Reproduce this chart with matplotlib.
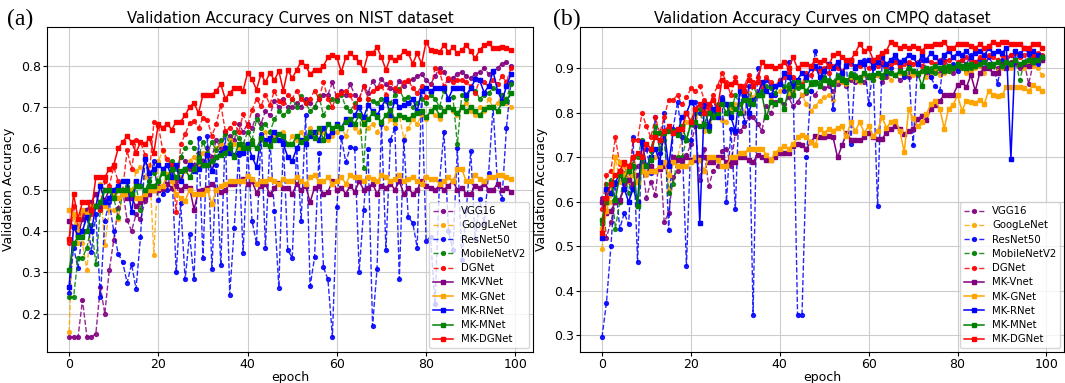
import matplotlib
matplotlib.use("Agg")
import matplotlib.pyplot as plt

# epochs 0..99
epochs = list(range(100))

names_a = ['VGG16', 'GoogLeNet', 'ResNet50', 'MobileNetV2', 'DGNet',
           'MK-VNet', 'MK-GNet', 'MK-RNet', 'MK-MNet', 'MK-DGNet']
names_b = ['VGG16', 'GoogLeNet', 'ResNet50', 'MobileNetV2', 'DGNet',
           'MK-Vnet', 'MK-GNet', 'MK-RNet', 'MK-MNet', 'MK-DGNet']
colors = ['purple', 'orange', 'blue', 'green', 'red',
          'purple', 'orange', 'blue', 'green', 'red']

# ---- panel (a): NIST ----
a_vgg = [.143, .143, .143, .233, .143, .143, .152, .265, .20, .305,
         .378, .456, .50, .426, .40, .44, .428, .472, .49, .50,
         .51, .50, .53, .55, .52, .58, .57, .55, .56, .59,
         .57, .60, .58, .62, .60, .64, .63, .62, .66, .64,
         .66, .65, .68, .66, .69, .68, .715, .70, .72, .70,
         .70, .71, .70, .72, .71, .70, .72, .73, .73, .76,
         .72, .74, .73, .755, .73, .72, .75, .735, .763, .745,
         .767, .755, .745, .74, .763, .75, .763, .767, .775, .78,
         .765, .755, .775, .795, .785, .765, .77, .78, .785, .775,
         .77, .78, .785, .795, .78, .785, .795, .805, .808, .80]
a_goog = [.155, .44, .37, .37, .305, .45, .46, .515, .365, .45,
          .45, .43, .49, .48, .49, .545, .554, .53, .56, .343,
          .57, .594, .56, .55, .555, .53, .545, .57, .58, .56,
          .59, .58, .56, .60, .61, .60, .62, .61, .60, .59,
          .61, .62, .60, .62, .64, .61, .63, .62, .64, .61,
          .63, .62, .64, .62, .65, .63, .64, .64, .62, .63,
          .64, .65, .63, .66, .65, .64, .67, .65, .66, .64,
          .66, .65, .67, .66, .68, .623, .65, .67, .66, .68,
          .67, .69, .68, .67, .69, .70, .69, .68, .70, .71,
          .69, .68, .70, .69, .72, .70, .71, .73, .71, .70]
a_res = [.25, .36, .31, .40, .44, .35, .44, .24, .425, .47,
         .40, .345, .325, .275, .32, .26, .385, .575, .52, .57,
         .475, .49, .50, .555, .30, .468, .283, .392, .283, .626,
         .335, .63, .307, .56, .317, .64, .246, .408, .585, .348,
         .60, .424, .37, .634, .36, .62, .449, .263, .62, .354,
         .335, .60, .425, .68, .266, .336, .589, .312, .283, .144,
         .457, .627, .566, .603, .60, .302, .45, .598, .17, .308,
         .66, .355, .62, .65, .284, .62, .433, .42, .36, .74,
         .377, .385, .223, .52, .64, .40, .354, .60, .33, .45,
         .593, .38, .477, .42, .54, .70, .513, .477, .65, .76]
a_mob = [.24, .24, .335, .335, .36, .415, .32, .45, .50, .50,
         .48, .435, .49, .51, .50, .51, .45, .50, .52, .54,
         .52, .55, .56, .57, .55, .58, .60, .615, .60, .58,
         .615, .59, .615, .595, .62, .635, .61, .64, .625, .61,
         .64, .62, .67, .65, .66, .64, .67, .69, .68, .69,
         .72, .70, .726, .71, .69, .70, .726, .68, .70, .72,
         .715, .73, .70, .69, .71, .70, .553, .72, .715, .71,
         .72, .715, .71, .73, .743, .72, .725, .70, .71, .72,
         .71, .73, .72, .70, .74, .72, .725, .61, .73, .72,
         .745, .74, .72, .73, .735, .745, .74, .73, .72, .755]
a_dg = [.37, .46, .41, .44, .45, .44, .46, .45, .52, .51,
        .555, .52, .50, .595, .55, .62, .615, .585, .54, .663,
        .655, .595, .574, .56, .446, .61, .634, .662, .666, .65,
        .674, .668, .63, .66, .706, .642, .65, .662, .64, .682,
        .654, .694, .719, .702, .73, .706, .739, .715, .71, .73,
        .72, .74, .72, .71, .72, .74, .72, .76, .72, .70,
        .73, .735, .74, .73, .70, .72, .75, .72, .74, .745,
        .75, .73, .76, .745, .74, .76, .765, .745, .735, .75,
        .725, .74, .795, .785, .75, .77, .76, .765, .765, .76,
        .75, .735, .765, .76, .75, .765, .757, .775, .76, .795]
a_mkv = [.425, .41, .39, .43, .45, .47, .49, .46, .475, .50,
         .49, .50, .49, .48, .48, .46, .47, .48, .49, .50,
         .50, .505, .513, .505, .51, .50, .51, .505, .452, .497,
         .50, .505, .513, .50, .495, .50, .513, .515, .52, .525,
         .513, .52, .493, .51, .513, .489, .505, .517, .505, .505,
         .49, .513, .50, .51, .47, .505, .51, .49, .495, .52,
         .50, .505, .49, .51, .495, .52, .50, .505, .515, .49,
         .51, .505, .515, .50, .52, .49, .505, .49, .50, .52,
         .51, .505, .50, .51, .50, .51, .52, .50, .505, .49,
         .49, .51, .505, .515, .50, .50, .515, .50, .505, .495]
a_mkg = [.45, .44, .40, .45, .44, .46, .46, .47, .46, .48,
         .49, .48, .49, .49, .50, .48, .48, .49, .50, .50,
         .505, .51, .537, .52, .49, .48, .473, .50, .49, .49,
         .49, .50, .465, .50, .51, .515, .52, .52, .52, .52,
         .533, .525, .515, .52, .52, .525, .52, .515, .525, .52,
         .52, .53, .52, .515, .53, .535, .52, .52, .53, .515,
         .52, .53, .515, .535, .53, .53, .52, .53, .525, .52,
         .535, .53, .52, .525, .535, .52, .525, .53, .52, .515,
         .53, .525, .525, .515, .52, .53, .52, .55, .55, .52,
         .52, .535, .525, .52, .53, .53, .535, .535, .53, .525]
a_mkr = [.265, .41, .39, .40, .435, .40, .46, .51, .47, .48,
         .50, .51, .52, .52, .445, .52, .51, .575, .54, .55,
         .56, .55, .56, .53, .56, .52, .55, .56, .545, .55,
         .56, .585, .545, .58, .59, .60, .59, .585, .59, .59,
         .61, .58, .555, .625, .62, .625, .64, .62, .61, .58,
         .57, .60, .62, .61, .63, .64, .62, .65, .63, .64,
         .66, .65, .67, .66, .68, .70, .675, .705, .69, .68,
         .70, .72, .68, .715, .70, .705, .71, .72, .69, .74,
         .745, .74, .745, .745, .745, .72, .745, .745, .745, .73,
         .745, .767, .765, .735, .75, .787, .74, .715, .75, .78]
a_mkm = [.305, .37, .385, .385, .40, .45, .46, .47, .50, .50,
         .48, .50, .50, .50, .49, .51, .51, .50, .51, .51,
         .52, .54, .53, .55, .53, .545, .55, .53, .55, .57,
         .56, .56, .57, .58, .585, .59, .60, .58, .61, .60,
         .60, .61, .60, .625, .61, .605, .62, .635, .63, .61,
         .61, .63, .615, .625, .64, .625, .65, .62, .66, .65,
         .655, .65, .665, .67, .66, .68, .66, .67, .686, .675,
         .665, .68, .694, .67, .68, .675, .67, .68, .685, .69,
         .675, .69, .70, .68, .69, .70, .695, .685, .70, .69,
         .70, .69, .68, .695, .70, .70, .69, .71, .715, .735]
a_mkdg = [.38, .49, .43, .47, .47, .45, .53, .53, .53, .55,
          .56, .60, .615, .63, .615, .59, .615, .61, .625, .59,
          .66, .65, .66, .645, .665, .665, .68, .70, .71, .685,
          .73, .73, .73, .74, .755, .72, .735, .745, .745, .74,
          .783, .767, .742, .78, .76, .783, .765, .787, .74, .79,
          .77, .79, .81, .80, .78, .79, .79, .80, .82, .825,
          .82, .785, .82, .83, .82, .81, .79, .83, .83, .845,
          .82, .79, .82, .815, .82, .835, .83, .805, .83, .805,
          .858, .837, .835, .833, .85, .833, .845, .83, .838, .85,
          .835, .818, .838, .85, .855, .842, .842, .845, .842, .838]

# ---- panel (b): CMPQ ----
b_vgg = [.61, .52, .555, .60, .60, .64, .65, .66, .68, .69,
         .61, .645, .615, .71, .555, .575, .655, .67, .69, .705,
         .73, .77, .65, .72, .635, .67, .68, .715, .72, .68,
         .755, .76, .77, .79, .79, .775, .76, .815, .80, .825,
         .83, .82, .835, .815, .825, .84, .845, .85, .84, .86,
         .855, .86, .85, .865, .87, .86, .875, .87, .88, .87,
         .88, .875, .885, .87, .88, .89, .885, .875, .89, .88,
         .89, .885, .895, .89, .88, .895, .89, .90, .895, .89,
         .90, .905, .895, .90, .91, .905, .90, .91, .905, .90,
         .91, .905, .915, .91, .90, .915, .865, .91, .915, .92]
b_goog = [.495, .58, .60, .70, .645, .68, .645, .69, .645, .68,
          .66, .70, .70, .735, .745, .625, .69, .70, .745, .78,
          .785, .79, .80, .76, .78, .80, .79, .785, .78, .81,
          .82, .82, .80, .845, .835, .85, .84, .855, .83, .84,
          .85, .855, .845, .85, .86, .84, .82, .805, .815, .828,
          .835, .84, .83, .875, .87, .865, .88, .875, .87, .885,
          .88, .875, .885, .88, .89, .875, .885, .89, .88, .89,
          .885, .89, .895, .88, .89, .895, .885, .89, .895, .90,
          .895, .90, .89, .895, .90, .905, .89, .90, .905, .895,
          .90, .905, .90, .91, .905, .90, .91, .905, .90, .885]
b_res = [.296, .373, .50, .645, .54, .575, .55, .745, .465, .73,
         .72, .665, .79, .71, .80, .536, .765, .825, .745, .456,
         .74, .825, .80, .825, .765, .83, .80, .835, .60, .765,
         .585, .86, .78, .86, .347, .90, .845, .875, .86, .84,
         .875, .85, .915, .87, .347, .347, .70, .85, .94, .90,
         .88, .91, .81, .905, .89, .91, .73, .905, .91, .92,
         .82, .90, .59, .91, .89, .90, .92, .90, .88, .91,
         .727, .91, .92, .90, .88, .86, .85, .92, .905, .91,
         .895, .92, .91, .93, .915, .92, .90, .925, .91, .865,
         .92, .915, .93, .92, .935, .915, .93, .925, .91, .92]
b_mob = [.55, .64, .65, .54, .60, .665, .62, .70, .70, .74,
         .73, .715, .77, .72, .74, .62, .64, .70, .70, .74,
         .78, .80, .81, .77, .76, .80, .82, .83, .82, .80,
         .84, .82, .84, .82, .86, .84, .85, .86, .855, .845,
         .87, .86, .865, .87, .855, .86, .875, .87, .865, .87,
         .88, .875, .87, .885, .88, .875, .89, .885, .88, .89,
         .885, .875, .89, .885, .895, .89, .885, .895, .89, .90,
         .895, .89, .895, .895, .90, .89, .90, .905, .895, .90,
         .905, .90, .91, .90, .905, .91, .90, .91, .905, .915,
         .91, .915, .91, .92, .873, .915, .92, .925, .92, .925]
b_dg = [.585, .66, .67, .745, .685, .685, .65, .74, .74, .80,
        .77, .745, .79, .755, .79, .83, .83, .84, .82, .835,
        .855, .85, .86, .83, .81, .84, .86, .89, .87, .84,
        .88, .855, .86, .885, .87, .88, .86, .88, .87, .86,
        .875, .88, .89, .88, .87, .865, .89, .885, .90, .895,
        .90, .89, .905, .90, .895, .905, .91, .90, .905, .91,
        .90, .91, .905, .915, .90, .91, .915, .905, .91, .915,
        .91, .915, .905, .92, .915, .91, .92, .915, .92, .925,
        .915, .92, .925, .92, .915, .925, .92, .93, .925, .92,
        .93, .925, .93, .935, .925, .93, .935, .93, .935, .93]
b_mkv = [.60, .575, .58, .60, .605, .63, .65, .64, .66, .67,
         .665, .68, .67, .675, .68, .685, .70, .695, .695, .70,
         .695, .695, .70, .70, .69, .69, .70, .70, .69, .69,
         .69, .70, .70, .695, .69, .705, .70, .695, .695, .70,
         .71, .71, .71, .725, .73, .727, .72, .735, .748, .745,
         .745, .748, .745, .70, .727, .755, .74, .74, .74, .745,
         .756, .745, .742, .742, .755, .763, .77, .765, .752, .76,
         .764, .786, .794, .785, .81, .817, .828, .84, .84, .84,
         .862, .87, .858, .885, .85, .89, .90, .90, .89, .89,
         .907, .90, .91, .915, .905, .91, .905, .915, .92, .92]
b_mkg = [.54, .58, .62, .70, .69, .66, .68, .66, .645, .67,
         .665, .67, .67, .68, .69, .66, .69, .68, .68, .68,
         .69, .70, .695, .67, .70, .70, .695, .68, .68, .70,
         .70, .71, .71, .72, .72, .72, .72, .705, .695, .71,
         .72, .725, .72, .73, .745, .75, .745, .735, .727, .764,
         .755, .764, .76, .767, .77, .748, .78, .76, .779, .756,
         .77, .748, .76, .79, .767, .779, .783, .76, .712, .808,
         .788, .77, .78, .798, .82, .826, .81, .765, .81, .818,
         .84, .805, .828, .824, .823, .83, .82, .85, .84, .838,
         .84, .858, .858, .858, .858, .855, .85, .862, .855, .85]
b_mkr = [.52, .63, .62, .64, .67, .63, .60, .63, .60, .735,
         .68, .70, .72, .69, .76, .68, .76, .755, .79, .80,
         .825, .81, .553, .815, .77, .81, .79, .83, .82, .79,
         .76, .85, .84, .80, .83, .84, .87, .85, .84, .86,
         .865, .89, .88, .86, .875, .89, .88, .90, .905, .88,
         .895, .91, .90, .915, .89, .905, .92, .90, .915, .91,
         .92, .905, .915, .925, .91, .92, .93, .915, .92, .93,
         .925, .91, .93, .92, .935, .925, .915, .93, .94, .925,
         .935, .93, .94, .925, .935, .94, .93, .945, .935, .94,
         .935, .945, .697, .94, .93, .945, .935, .94, .93, .925]
b_mkm = [.56, .60, .645, .605, .66, .65, .67, .68, .59, .70,
         .68, .695, .755, .755, .755, .76, .76, .75, .77, .74,
         .775, .78, .77, .775, .80, .79, .80, .82, .80, .82,
         .81, .80, .83, .83, .82, .84, .84, .79, .825, .82,
         .83, .81, .855, .84, .87, .86, .85, .865, .87, .86,
         .875, .87, .865, .88, .875, .87, .885, .88, .875, .89,
         .88, .885, .89, .88, .895, .89, .885, .895, .89, .90,
         .895, .89, .86, .90, .895, .905, .90, .895, .905, .90,
         .91, .905, .90, .91, .905, .91, .915, .905, .91, .915,
         .905, .915, .91, .92, .91, .915, .92, .915, .92, .925]
b_mkdg = [.53, .61, .64, .66, .67, .69, .68, .70, .71, .70,
          .73, .72, .745, .74, .76, .77, .755, .765, .765, .80,
          .78, .81, .82, .80, .82, .83, .81, .875, .86, .865,
          .87, .86, .85, .875, .86, .87, .915, .905, .905, .90,
          .905, .915, .90, .925, .90, .91, .91, .905, .92, .915,
          .92, .905, .93, .935, .925, .92, .92, .935, .955, .94,
          .945, .92, .925, .935, .94, .96, .955, .945, .95, .945,
          .95, .945, .94, .95, .95, .955, .955, .96, .945, .945,
          .955, .955, .955, .95, .945, .955, .945, .95, .96, .955,
          .96, .96, .955, .955, .955, .945, .945, .955, .955, .945]

series_a = [a_vgg, a_goog, a_res, a_mob, a_dg, a_mkv, a_mkg, a_mkr, a_mkm, a_mkdg]
series_b = [b_vgg, b_goog, b_res, b_mob, b_dg, b_mkv, b_mkg, b_mkr, b_mkm, b_mkdg]

fig = plt.figure(figsize=(10.65, 3.83), dpi=100)
ax_a = fig.add_axes([47 / 1065, 31 / 383, 486 / 1065, 325 / 383])
ax_b = fig.add_axes([580 / 1065, 31 / 383, 484 / 1065, 325 / 383])


def draw_panel(ax, series, names, title):
    for i, (vals, name, c) in enumerate(zip(series, names, colors)):
        if i < 5:
            ax.plot(epochs, vals, linestyle='--', marker='o', markersize=2.8,
                    linewidth=1.0, color=c, alpha=0.85, label=name)
        else:
            ax.plot(epochs, vals, linestyle='-', marker='s', markersize=2.8,
                    linewidth=1.1, color=c, label=name)
    ax.set_title(title, fontsize=10.7, pad=3)
    ax.set_xlabel('epoch', fontsize=9, labelpad=0)
    ax.set_ylabel('Validation Accuracy', fontsize=9, labelpad=4)
    ax.tick_params(labelsize=9, pad=1.5, length=3)
    ax.set_xticks([0, 20, 40, 60, 80, 100])
    ax.grid(True, color='#cccccc', linewidth=0.8)
    ax.legend(loc='lower right', fontsize=7.3, handlelength=2.0,
              labelspacing=0.42, borderaxespad=0.35)


draw_panel(ax_a, series_a, names_a, 'Validation Accuracy Curves on NIST dataset')
draw_panel(ax_b, series_b, names_b, 'Validation Accuracy Curves on CMPQ dataset')

fig.text(20 / 1065, 1 - 19 / 383, '(a)', family='Liberation Serif', fontsize=17,
         ha='center', va='center')
fig.text(567 / 1065, 1 - 19 / 383, '(b)', family='Liberation Serif', fontsize=17,
         ha='center', va='center')

fig.savefig('out.png', dpi=100)
